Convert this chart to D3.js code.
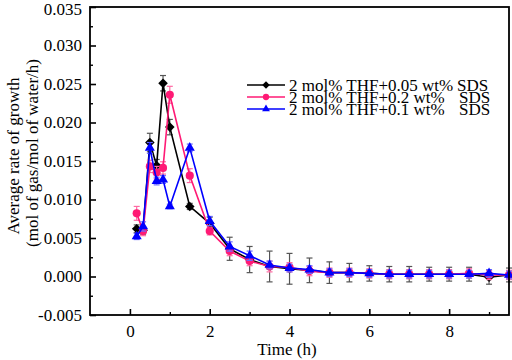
<!DOCTYPE html>
<html><head><meta charset="utf-8">
<script src="https://cdn.jsdelivr.net/npm/d3@7"></script>
<style>body{margin:0;background:#fff}svg{display:block}</style>
</head><body>
<svg id="c" width="512" height="360"></svg>
<script>
const times = [0.17,0.33,0.5,0.67,0.83,1.0,1.5,2.0,2.5,3.0,3.5,4.0,4.5,5.0,5.5,6.0,6.5,7.0,7.5,8.0,8.5,9.0,9.5];
const seriesNames = ["2 mol% THF+0.05 wt%","2 mol% THF+0.2 wt%","2 mol% THF+0.1 wt%"];
const blackVals = [0.0062,0.0060,0.0174,0.0144,0.0251,0.0194,0.0091,0.0069,0.0036,0.0022,0.0013,0.0010,0.0008,0.0005,0.0005,0.0004,0.0003,0.0003,0.0003,0.0003,0.0003,-0.0001,0.0002];
const blackErr  = [0.0005,0.0005,0.0012,0.0008,0.0010,0.0010,0.0004,0.0008,0.0015,0.0017,0.0020,0.0020,0.0016,0.0014,0.0012,0.0010,0.0010,0.0010,0.0009,0.0009,0.0009,0.0009,0.0009];
const pinkVals  = [0.0082,0.0059,0.0143,0.0135,0.0141,0.0236,0.0131,0.0059,0.0033,0.0020,0.0013,0.0012,0.0007,0.0005,0.0005,0.0004,0.0003,0.0003,0.0003,0.0003,0.0004,0.0002,0.0002];
const pinkErr   = [0.0009,0.0006,0.0008,0.0008,0.0008,0.0011,0.0009,0.0005,0.0006,0.0006,0.0007,0.0006,0.0006,0.0006,0.0006,0.0006,0.0006,0.0006,0.0006,0.0006,0.0006,0.0006,0.0006];
const blueVals  = [0.0052,0.0065,0.0167,0.0124,0.0126,0.0091,0.0167,0.0072,0.0039,0.0027,0.0015,0.0011,0.0009,0.0005,0.0005,0.0004,0.0003,0.0003,0.0003,0.0003,0.0003,0.0004,0.0002];
const blueErr   = [0.0004,0.0006,0.0007,0.0005,0.0005,0.0003,0.0005,0.0006,0.0006,0.0006,0.0005,0.0005,0.0005,0.0005,0.0005,0.0005,0.0005,0.0005,0.0005,0.0005,0.0005,0.0005,0.0005];
const xTicks = [0,2,4,6,8];
const yTicks = [-0.005,0.000,0.005,0.010,0.015,0.020,0.025,0.030,0.035];

const series = [
  {name:seriesNames[0], vals:blackVals, err:blackErr, color:"#000000", ecolor:"#555555", sym:d3.symbolSquare, rot:45, size:46},
  {name:seriesNames[1], vals:pinkVals, err:pinkErr, color:"#ff1a75", ecolor:"#ff6aa3", sym:d3.symbolCircle, rot:0, size:52},
  {name:seriesNames[2], vals:blueVals, err:blueErr, color:"#0000ff", ecolor:"#6a6aff", sym:d3.symbolTriangle, rot:0, size:44}
];

const L=90, R=509, T=7, B=315;
const x = d3.scaleLinear().domain([-1,9.5]).range([L,R]);
const y = d3.scaleLinear().domain([-0.005,0.035]).range([B,T]);
const svg = d3.select("#c");
const font = "'Liberation Serif','Times New Roman',serif";
const fs = 17;

series.forEach(s=>{
  const g = svg.append("g");
  const pts = times.map((t,i)=>({t, v:s.vals[i], e:s.err[i]}));
  const eb = g.append("g").attr("stroke", s.ecolor).attr("stroke-width",1.2);
  pts.forEach(p=>{
    eb.append("line").attr("x1",x(p.t)).attr("x2",x(p.t)).attr("y1",y(p.v-p.e)).attr("y2",y(p.v+p.e));
    eb.append("line").attr("x1",x(p.t)-3).attr("x2",x(p.t)+3).attr("y1",y(p.v-p.e)).attr("y2",y(p.v-p.e));
    eb.append("line").attr("x1",x(p.t)-3).attr("x2",x(p.t)+3).attr("y1",y(p.v+p.e)).attr("y2",y(p.v+p.e));
  });
  g.append("path").datum(pts).attr("fill","none").attr("stroke",s.color).attr("stroke-width",1.6)
    .attr("d", d3.line().x(p=>x(p.t)).y(p=>y(p.v)));
  g.selectAll("path.m").data(pts).join("path").attr("class","m")
    .attr("transform",p=>`translate(${x(p.t)},${y(p.v)}) rotate(${s.rot})`)
    .attr("d", d3.symbol().type(s.sym).size(s.size)).attr("fill",s.color);
});

svg.append("rect").attr("x",L).attr("y",T).attr("width",R-L).attr("height",B-T)
  .attr("fill","none").attr("stroke","#000").attr("stroke-width",1.8);

const xAxis = svg.append("g").attr("transform",`translate(0,${B})`)
  .call(d3.axisBottom(x).tickValues(xTicks).tickFormat(d3.format("d")).tickSizeInner(-6).tickSizeOuter(0).tickPadding(10));
xAxis.select(".domain").remove();
xAxis.selectAll("line").attr("stroke-width",1.6);
xAxis.selectAll("text").attr("font-family",font).attr("font-size",fs).attr("fill","#000");
const xMinor = svg.append("g").attr("transform",`translate(0,${B})`)
  .call(d3.axisBottom(x).tickValues([1,3,5,7,9]).tickFormat("").tickSizeInner(-3).tickSizeOuter(0));
xMinor.select(".domain").remove();
xMinor.selectAll("line").attr("stroke-width",1.4);

const yAxis = svg.append("g").attr("transform",`translate(${L},0)`)
  .call(d3.axisLeft(y).tickValues(yTicks).tickFormat(d3.format(".3f")).tickSizeInner(-6).tickSizeOuter(0).tickPadding(8));
yAxis.select(".domain").remove();
yAxis.selectAll("line").attr("stroke-width",1.6);
yAxis.selectAll("text").attr("font-family",font).attr("font-size",fs).attr("fill","#000")
  .text(d=> d<0 ? "-"+d3.format(".3f")(-d) : d3.format(".3f")(d));
yAxis.selectAll(".tick").filter(d=>d===0.035).select("text").attr("dy","0.42em");
const yMinor = svg.append("g").attr("transform",`translate(${L},0)`)
  .call(d3.axisLeft(y).tickValues(yTicks.slice(0,-1).map(v=>v+0.0025)).tickFormat("").tickSizeInner(-3).tickSizeOuter(0));
yMinor.select(".domain").remove();
yMinor.selectAll("line").attr("stroke-width",1.4);

svg.append("text").attr("x",287).attr("y",355).attr("text-anchor","middle")
  .attr("font-family",font).attr("font-size",fs).text("Time (h)");
svg.append("text").attr("transform","translate(19,156) rotate(-90)").attr("text-anchor","middle")
  .attr("font-family",font).attr("font-size",fs).text("Average rate of growth");
svg.append("text").attr("transform","translate(38,153) rotate(-90)").attr("text-anchor","middle")
  .attr("font-family",font).attr("font-size",fs).text("(mol of gas/mol of water/h)");

const legY = [85,97,109];
const sdsX = [457,459,459];
series.forEach((s,i)=>{
  const g = svg.append("g");
  g.append("line").attr("x1",247).attr("x2",285).attr("y1",legY[i]).attr("y2",legY[i])
    .attr("stroke",s.color).attr("stroke-width",1.6);
  g.append("path").attr("transform",`translate(266,${legY[i]}) rotate(${s.rot})`)
    .attr("d", d3.symbol().type(s.sym).size(s.size*0.6)).attr("fill",s.color);
  g.append("text").attr("x",289).attr("y",legY[i]+5.5).attr("font-family",font).attr("font-size",fs).text(s.name);
  g.append("text").attr("x",sdsX[i]).attr("y",legY[i]+5.5).attr("font-family",font).attr("font-size",fs).text("SDS");
});
</script>
</body></html>
